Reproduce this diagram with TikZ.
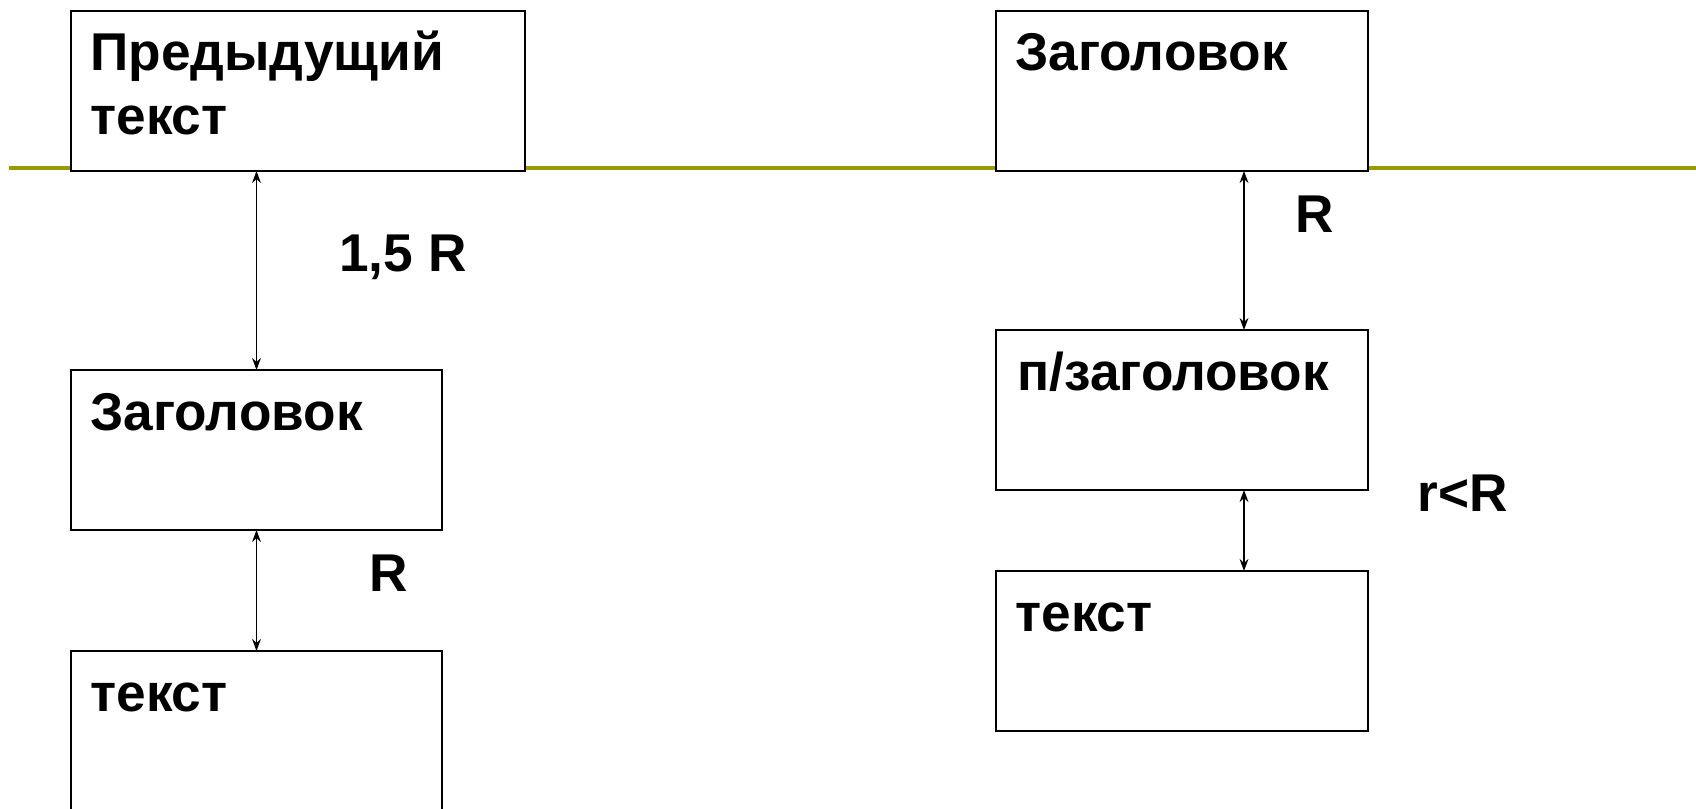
\documentclass[tikz,border=0pt]{standalone}
\usepackage{fontspec}
\setmainfont{Liberation Sans}
\usetikzlibrary{arrows.meta}
\definecolor{olivebar}{RGB}{153,153,0}
\begin{document}
\begin{tikzpicture}[x=0.5pt,y=-0.5pt,
  box/.style={draw=black, line width=1.3pt, fill=white, inner sep=0pt, outer sep=0pt,
    minimum height=80pt, anchor=north west},
  lbl/.style={font=\fontsize{26.6}{32}\selectfont\bfseries, inner sep=0pt, anchor=base west},
  dim/.style={line width=0.85pt, {Stealth[length=6pt,width=4.4pt]}-{Stealth[length=6pt,width=4.4pt]}}]
\useasboundingbox (0,0) rectangle (1696,808);
\clip (0,0) rectangle (1696,808);
\fill[white] (0,0) rectangle (1696,808);
% olive rule
\coordinate (rl) at (9,168);
\coordinate (rr) at (1696,168);
\draw[olivebar, line width=2.3pt] (rl) -- (rr);
% left column
\node[box, minimum width=227pt] (b1) at (71,11) {};
\node[box, minimum width=185.5pt] (b2) at (71,370) {};
\node[box, minimum width=185.5pt] (b3) at (71,651) {};
\node[lbl] (t1a) at (90,71) {Предыдущий};
\node[lbl] (t1b) at (90,134) {текст};
\node[lbl] (t2) at (90,430) {Заголовок};
\node[lbl] (t3) at (90,711) {текст};
\draw[dim] (b2.north |- b1.south) -- (b2.north);
\draw[dim] (b2.south) -- (b3.north);
\node[lbl] (l1) at (339,271) {1,5 R};
\node[lbl] (l2) at (369,591) {R};
% right column
\node[box, minimum width=186pt] (r1) at (996,11) {};
\node[box, minimum width=186pt] (r2) at (996,330) {};
\node[box, minimum width=186pt] (r3) at (996,571) {};
\node[lbl] (s1) at (1015,71) {Заголовок};
\node[lbl] (s2) at (1017,390) {п/заголовок};
\node[lbl] (s3) at (1015,631) {текст};
\draw[dim] ([xshift=31pt]r1.south) -- ([xshift=31pt]r2.north);
\draw[dim] ([xshift=31pt]r2.south) -- ([xshift=31pt]r3.north);
\node[lbl] (l3) at (1295,232) {R};
\node[lbl] (l4) at (1417,511) {r<R};
\end{tikzpicture}
\end{document}
